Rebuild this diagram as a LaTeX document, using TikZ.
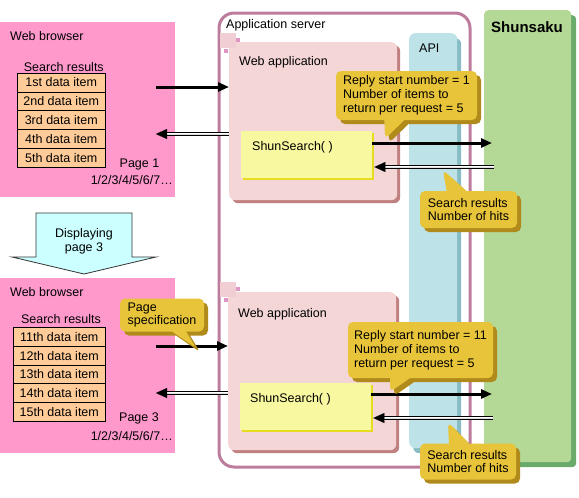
\documentclass[tikz,border=0pt]{standalone}
\usepackage{fontspec}
\setmainfont{Liberation Sans}
\usetikzlibrary{positioning,shapes.callouts,shadows,arrows.meta}

\definecolor{browserpink}{RGB}{255,153,204}
\definecolor{itemorange}{RGB}{255,204,153}
\definecolor{serverframe}{RGB}{188,124,156}
\definecolor{apppink}{RGB}{245,214,214}
\definecolor{appshade}{RGB}{192,128,128}
\definecolor{tabpink}{RGB}{240,206,212}
\definecolor{tabmark}{RGB}{224,150,196}
\definecolor{shunyellow}{RGB}{248,248,160}
\definecolor{shunshade}{RGB}{232,220,32}
\definecolor{apiblue}{RGB}{189,227,232}
\definecolor{apishade}{RGB}{136,188,196}
\definecolor{dbgreen}{RGB}{180,216,150}
\definecolor{dbshade}{RGB}{106,170,106}
\definecolor{notegold}{RGB}{232,196,58}
\definecolor{noteshade}{RGB}{176,138,26}
\definecolor{pagecyan}{RGB}{204,255,255}

\tikzset{
  lbl/.style={inner sep=0pt, font=\fontsize{12.5}{14}\selectfont},
  browser/.style={fill=browserpink, minimum width=175pt, minimum height=175pt, anchor=north west, inner sep=0pt},
  item/.style={draw, fill=itemorange, line width=0.8pt, minimum height=18.8pt, anchor=north west, inner sep=0pt, font=\fontsize{12.5}{14}\selectfont},
  server/.style={draw=serverframe, line width=3pt, rounded corners=15pt, minimum width=251pt, minimum height=454pt, anchor=north west},
  webapp/.style={fill=apppink, rounded corners=6pt, minimum width=168pt, minimum height=158pt, anchor=north west,
    drop shadow={shadow xshift=3pt, shadow yshift=-3pt, fill=appshade, opacity=1}},
  shunfunc/.style={fill=shunyellow, minimum width=131pt, minimum height=47pt, anchor=north west,
    drop shadow={shadow xshift=2pt, shadow yshift=-2pt, fill=shunshade, opacity=1}},
  apicol/.style={fill=apiblue, rounded corners=6pt, minimum width=48pt, minimum height=415pt, anchor=north west,
    drop shadow={shadow xshift=4pt, shadow yshift=-5pt, fill=apishade, opacity=1}},
  dbcol/.style={fill=dbgreen, rounded corners=4pt, minimum width=87pt, minimum height=452pt, anchor=north west,
    drop shadow={shadow xshift=5pt, shadow yshift=-5pt, fill=dbshade, opacity=1}},
  note/.style={rectangle callout, fill=notegold, rounded corners=5pt, align=left, inner sep=0pt,
    callout pointer width=20pt, font=\fontsize{12.5}{13.8}\selectfont,
    drop shadow={shadow xshift=4pt, shadow yshift=-4pt, fill=noteshade, opacity=1}},
  req/.style={line width=3pt, -{Triangle[length=11pt,width=9pt]}},
  reply/.style={line width=0.01pt, -{Triangle[length=11pt,width=10pt]},
    preaction={draw, -, double, double distance=2pt, line width=1pt, shorten >=8pt}},
}

\begin{document}
\begin{tikzpicture}[x=1pt,y=-1pt]
\useasboundingbox (0,0) rectangle (579,498);

% back layer: server, API, Shunsaku
\node[server] (server) at (217.5,11.5) {};
\node[lbl, anchor=base west] (servername) at (226,28) {Application server};
\node[apicol] (api) at (409,33) {};
\node[lbl, anchor=base west] (apiname) at (419,52) {API};
\node[dbcol] (db) at (484,10) {};
\node[lbl, anchor=base west, font=\fontsize{15}{17}\selectfont\bfseries] (dbname) at (491,32) {Shunsaku};

% browsers
\node[browser] (brA) at (0,22) {};
\node[lbl, anchor=base west] (brAname) at (10,40) {Web browser};
\node[lbl, anchor=base] (resA) at (63.8,71) {Search results};
\foreach \n [count=\i] in {1st,2nd,3rd,4th,5th}
  \node[item, minimum width=88.3pt] (itemA\i) at (16.7,{72.7+(\i-1)*18.8}) {\n\ data item};
\node[lbl, anchor=base] (pageA) at (139.5,167) {Page 1};
\node[lbl, anchor=base east] (navA) at (173,184) {1/2/3/4/5/6/7…};

\node[browser] (brB) at (0,278) {};
\node[lbl, anchor=base west] (brBname) at (10,296) {Web browser};
\node[lbl, anchor=base] (resB) at (61,323) {Search results};
\foreach \n [count=\i] in {11th,12th,13th,14th,15th}
  \node[item, minimum width=92.3pt] (itemB\i) at (12.7,{327+(\i-1)*18.8}) {\n\ data item};
\node[lbl, anchor=base] (pageB) at (139,421) {Page 3};
\node[lbl, anchor=base east] (navB) at (173,440) {1/2/3/4/5/6/7…};

% page change
\draw[fill=pagecyan, draw=black!80, line width=0.8pt]
  (36,213) -- (132,213) -- (132,257) -- (156,257) -- (84,274) -- (12,257) -- (36,257) -- cycle;
\node[lbl, align=center] (disp) at (84,241) {Displaying\\page 3};

% web applications
\node[webapp] (appA) at (229,42) {};
\node[webapp] (appB) at (228,292) {};
\foreach \t in {33,282} {
  \fill[tabpink] (220,\t) rectangle (236,{\t+15});
  \fill[tabmark] (236,{\t+5}) rectangle (240,{\t+9});
  \fill[tabmark] (224,{\t+16}) rectangle (228,{\t+20});
}
\node[lbl, anchor=base west] (appAname) at (239,65) {Web application};
\node[lbl, anchor=base west] (appBname) at (238,317) {Web application};

\node[shunfunc] (srchA) at (241,131) {};
\node[lbl, anchor=base west] (srchAname) at (252,150) {ShunSearch( )};
\node[shunfunc] (srchB) at (240,383) {};
\node[lbl, anchor=base west] (srchBname) at (250,402) {ShunSearch( )};

% requests and replies
\coordinate (inA) at (156,87);
\coordinate (outA) at (156,134);
\coordinate (callA) at (492,143);
\coordinate (backA) at (494,167);
\draw[req] (inA) -- (inA -| appA.west);
\draw[reply] (outA -| appA.west) -- (outA);
\draw[req] (callA -| srchA.east) -- (callA);
\draw[reply] (backA) -- ([xshift=2pt]backA -| srchA.east);

\coordinate (inB) at (156,346);
\coordinate (outB) at (156,393);
\coordinate (callB) at (492,394);
\coordinate (backB) at (493,418);
\draw[req] (inB) -- (inB -| appB.west);
\draw[reply] (outB -| appB.west) -- (outB);
\draw[req] (callB -| srchB.east) -- (callB);
\draw[reply] (backB) -- ([xshift=2pt]backB -| srchB.east);

% notes
\node[note, minimum width=141pt, minimum height=49pt, callout absolute pointer={(385,139)}] (noteA) at (406.5,95.5)
  {Reply start number = 1\\Number of items to\\return per request = 5};
\node[note, minimum width=97pt, minimum height=37pt, callout absolute pointer={(443,170)}] (hitsA) at (468.5,209.5)
  {Search results\\Number of hits};
\node[note, minimum width=145pt, minimum height=56pt, callout absolute pointer={(390,392)}] (noteB) at (420.5,350)
  {Reply start number = 11\\Number of items to\\return per request = 5};
\node[note, minimum width=96pt, minimum height=36pt, callout absolute pointer={(448,422)}] (hitsB) at (468,461.5)
  {Search results\\Number of hits};
\node[note, minimum width=84pt, minimum height=33pt, callout pointer width=14pt, callout absolute pointer={(196,348)}] (pagespec) at (162,315)
  {Page\\specification};
\end{tikzpicture}
\end{document}
